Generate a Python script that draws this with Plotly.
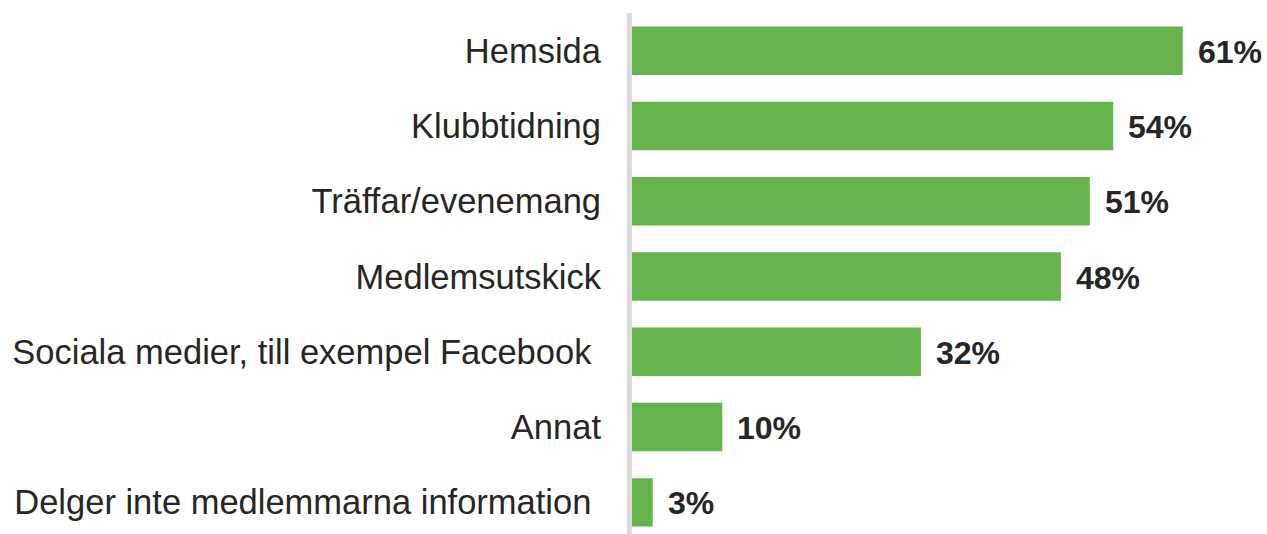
import plotly.graph_objects as go

categories = [
    "Delger inte medlemmarna information\u00a0",
    "Annat",
    "Sociala medier, till exempel Facebook\u00a0",
    "Medlemsutskick",
    "Träffar/evenemang",
    "Klubbtidning",
    "Hemsida",
]
# bar lengths (percent)
values = [2.3, 10.0, 32.0, 47.5, 50.7, 53.3, 61.0]
# labels as printed in the picture
value_labels = ["3%", "10%", "32%", "48%", "51%", "54%", "61%"]

BAR_COLOR = "#66b34b"
TEXT_COLOR = "#262626"
FONT = "Liberation Sans, Arial, sans-serif"

fig = go.Figure()
fig.add_trace(go.Bar(
    x=values,
    y=categories,
    orientation="h",
    marker=dict(color=BAR_COLOR, line=dict(width=0)),
    hoverinfo="skip",
))

for v, lab, cat in zip(values, value_labels, categories):
    fig.add_annotation(
        x=v, y=cat, text=lab, showarrow=False,
        xanchor="left", yanchor="middle", xshift=13, yshift=-1,
        font=dict(family=FONT, size=32, color=TEXT_COLOR, weight="bold"),
    )

fig.add_shape(
    type="line", xref="paper", yref="paper",
    x0=-0.0042, x1=-0.0042, y0=0, y1=1,
    line=dict(color="#d9d9d9", width=5),
    layer="above",
)

fig.update_layout(
    width=1267, height=534,
    margin=dict(l=632, r=3, t=13, b=0),
    paper_bgcolor="white", plot_bgcolor="white",
    bargap=0.356,
    showlegend=False,
    font=dict(family=FONT, color=TEXT_COLOR),
    xaxis=dict(range=[0, 70], visible=False, fixedrange=True),
    yaxis=dict(
        range=[-0.42, 6.5],
        showgrid=False, zeroline=False, showline=False,
        ticks="", ticklabelstandoff=30,
        tickfont=dict(family=FONT, size=34.5, color=TEXT_COLOR),
        automargin=False, fixedrange=True,
    ),
)

fig.write_html(
    "out.html",
    config={"displayModeBar": False},
    post_script="document.body.style.margin='0';",
)
